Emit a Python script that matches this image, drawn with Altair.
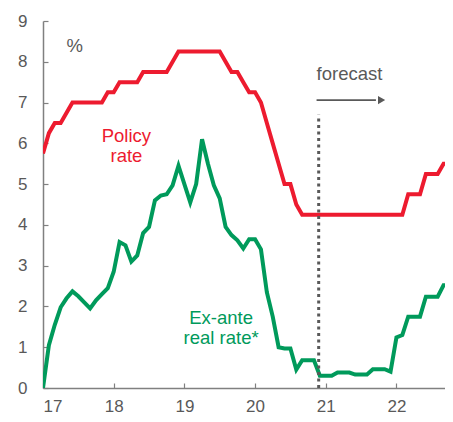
import altair as alt
import pandas as pd

# Monthly observations, Jan-2017 .. Oct-2022
years = [17] * 12 + [18] * 12 + [19] * 12 + [20] * 12 + [21] * 12 + [22] * 10
months = list(range(1, 13)) * 5 + list(range(1, 11))

policy_rate = [
    5.75, 6.25, 6.5, 6.5, 6.75, 7.0, 7.0, 7.0, 7.0, 7.0, 7.0, 7.25,
    7.25, 7.5, 7.5, 7.5, 7.5, 7.75, 7.75, 7.75, 7.75, 7.75, 8.0, 8.25,
    8.25, 8.25, 8.25, 8.25, 8.25, 8.25, 8.25, 8.0, 7.75, 7.75, 7.5, 7.25,
    7.25, 7.0, 6.5, 6.0, 5.5, 5.0, 5.0, 4.5, 4.25, 4.25, 4.25, 4.25,
    4.25, 4.25, 4.25, 4.25, 4.25, 4.25, 4.25, 4.25, 4.25, 4.25, 4.25, 4.25,
    4.25, 4.25, 4.75, 4.75, 4.75, 5.25, 5.25, 5.25, 5.5, 5.5,
]
real_rate = [
    0.0, 1.05, 1.55, 1.98, 2.2, 2.37, 2.25, 2.1, 1.95, 2.15, 2.3, 2.45,
    2.85, 3.58, 3.5, 3.1, 3.25, 3.8, 3.95, 4.6, 4.72, 4.75, 4.97, 5.45,
    5.0, 4.55, 5.0, 6.1, 5.5, 4.97, 4.65, 3.95, 3.75, 3.62, 3.42, 3.65,
    3.65, 3.4, 2.35, 1.75, 1.0, 0.97, 0.97, 0.45, 0.68, 0.68, 0.68, 0.3,
    0.3, 0.3, 0.38, 0.38, 0.38, 0.33, 0.33, 0.33, 0.46, 0.46, 0.46, 0.4,
    1.24, 1.3, 1.75, 1.75, 1.75, 2.24, 2.24, 2.24, 2.52, 2.52,
]

series_names = ["Policy rate", "Ex-ante real rate"]
series_colors = ["#ED1B2F", "#009A5B"]

x_ticks = [17, 18, 19, 20, 21, 22]
y_ticks = [0, 1, 2, 3, 4, 5, 6, 7, 8, 9]
x_domain = [17, 22.687]

forecast_start = 20.9
forecast_line_top = 6.7
arrow_start, arrow_end, arrow_y = 20.87, 21.79, 7.06

t = [y + (m - 1) / 12 for y, m in zip(years, months)]
df = pd.concat([
    pd.DataFrame({"t": t, "value": policy_rate, "series": series_names[0]}),
    pd.DataFrame({"t": t, "value": real_rate, "series": series_names[1]}),
])

GRAY = "#595959"
FONT = "Liberation Sans"

xs = alt.Scale(domain=x_domain, nice=False, zero=False)
ys = alt.Scale(domain=[0, 9], nice=False)

base = alt.Chart(df)
lines = base.mark_line(strokeWidth=4, clip=True).encode(
    x=alt.X("t:Q", scale=xs, title=None,
            axis=alt.Axis(values=x_ticks, format="d", grid=False, domainColor="#808080",
                          domainWidth=1.5, tickColor="#808080", tickWidth=1.2,
                          tickSize={"expr": "-5"}, labelPadding=15,
                          labelColor=GRAY, labelFontSize=17, labelFont=FONT)),
    y=alt.Y("value:Q", scale=ys, title=None,
            axis=alt.Axis(values=y_ticks, grid=False, domainColor="#808080",
                          domainWidth=1.5, tickColor="#808080", tickWidth=1.2,
                          tickSize={"expr": "-5"}, labelPadding=21,
                          labelColor=GRAY, labelFontSize=17, labelFont=FONT)),
    color=alt.Color("series:N", scale=alt.Scale(domain=series_names, range=series_colors), legend=None),
    detail="series:N",
)

rule_df = pd.DataFrame({"x": [forecast_start], "y0": [0], "y1": [forecast_line_top]})
vrule = alt.Chart(rule_df).mark_rule(color=GRAY, strokeWidth=3, strokeDash=[3, 3.5]).encode(
    x="x:Q", y="y0:Q", y2="y1:Q")

arrow_df = pd.DataFrame({"x0": [arrow_start], "x1": [arrow_end - 0.08], "y": [arrow_y]})
arrow_line = alt.Chart(arrow_df).mark_rule(color=GRAY, strokeWidth=1.8).encode(
    x="x0:Q", x2="x1:Q", y="y:Q")
head_df = pd.DataFrame({"x": [arrow_end], "y": [arrow_y]})
arrow_head = alt.Chart(head_df).mark_point(shape="triangle-right", filled=True, size=70,
                                           color=GRAY, opacity=1).encode(x="x:Q", y="y:Q")

ann = pd.DataFrame({
    "x": [20.87, 17.45, 18.18, 18.18, 19.52, 19.52],
    "y": [7.55, 8.23, 6.03, 5.53, 1.56, 1.07],
    "text": ["forecast", "%", "Policy", "rate", "Ex-ante", "real rate*"],
    "color": [GRAY, GRAY, series_colors[0], series_colors[0], series_colors[1], series_colors[1]],
    "align": ["left", "center", "center", "center", "center", "center"],
})
texts = []
for _, r in ann.iterrows():
    texts.append(alt.Chart(pd.DataFrame([r])).mark_text(
        font=FONT, fontSize=18.5, color=r["color"], align=r["align"], baseline="alphabetic"
    ).encode(x="x:Q", y="y:Q", text="text:N"))

chart = alt.layer(lines, vrule, arrow_line, arrow_head, *texts).properties(
    width=402, height=367,
    autosize=alt.AutoSizeParams(type="none"),
    padding={"left": 35, "top": 13, "right": 0, "bottom": 26},
).configure_view(stroke=None)

chart.save("out.html", embed_options={"renderer": "svg", "actions": False})
